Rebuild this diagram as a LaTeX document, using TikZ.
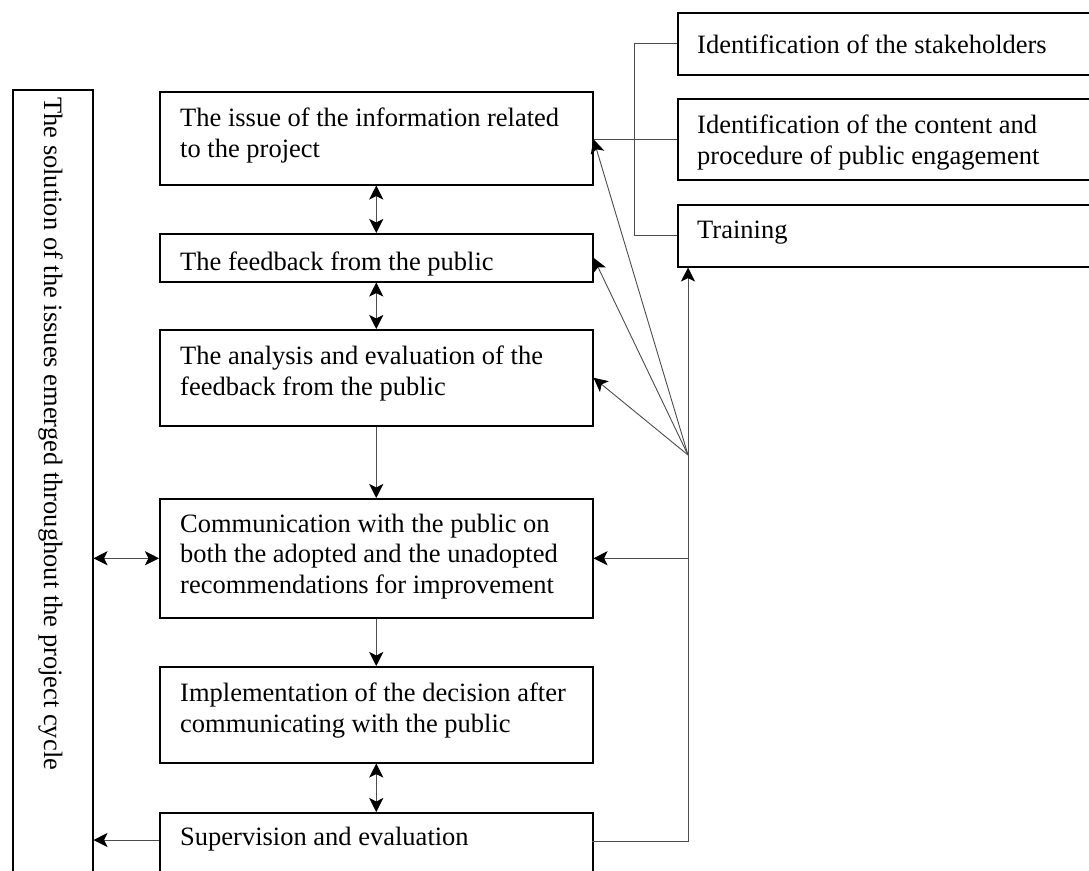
\documentclass[tikz,border=0pt]{standalone}
\usepackage{fontspec}
\setmainfont{Liberation Serif}
\usetikzlibrary{arrows.meta}
\begin{document}
\begin{tikzpicture}[x=1pt,y=-1pt,
  box/.style={draw=black, line width=1.5pt, rectangle, inner sep=0pt, anchor=north west},
  txt/.style={font=\fontsize{26.5}{30.5}\selectfont, align=left, inner sep=0pt, anchor=base west},
  conn/.style={draw=black!70, line width=0.9pt},
  tip/.tip={Stealth[length=14pt,width=14pt,inset=3.5pt,black]},
  arr/.style={conn, -tip},
  darr/.style={conn, tip-tip},
]
\useasboundingbox (0,0) rectangle (1089,870);
\clip (0,0) rectangle (1089,870);
% boxes
\node[box, minimum width=80pt, minimum height=820pt] (L) at (12,89) {};
\node[box, minimum width=433pt, minimum height=93pt] (b1) at (159,91) {};
\node[box, minimum width=433pt, minimum height=48pt] (b2) at (159,233) {};
\node[box, minimum width=433pt, minimum height=96pt] (b3) at (159,329) {};
\node[box, minimum width=433pt, minimum height=119pt] (b4) at (159,498) {};
\node[box, minimum width=433pt, minimum height=96pt] (b5) at (159,666) {};
\node[box, minimum width=433pt, minimum height=60pt] (b6) at (159,812) {};
\node[box, minimum width=440pt, minimum height=62pt] (r1) at (677,12) {};
\node[box, minimum width=440pt, minimum height=81pt] (r2) at (677,98) {};
\node[box, minimum width=440pt, minimum height=62pt] (r3) at (677,204) {};
% texts (base anchor = baseline of the last line)
\node[txt] (t1) at (180,157) {The issue of the information related\\to the project};
\node[txt] (t2) at (180,270) {The feedback from the public};
\node[txt] (t3) at (180,395) {The analysis and evaluation of the\\feedback from the public};
\node[txt] (t4) at (180,593) {Communication with the public on\\both the adopted and the unadopted\\recommendations for improvement};
\node[txt] (t5) at (180,732) {Implementation of the decision after\\communicating with the public};
\node[txt] (t6) at (180,845) {Supervision and evaluation};
\node[txt] (tr1) at (697,53) {Identification of the stakeholders};
\node[txt] (tr2) at (697,164) {Identification of the content and\\procedure of public engagement};
\node[txt] (tr3) at (697,238) {Training};
\node[txt, rotate=-90] (tL) at (44,97) {The solution of the issues emerged throughout the project cycle};
% vertical connectors
\draw[darr] (b1.south) -- (b2.north);
\draw[darr] (b2.south) -- (b3.north);
\draw[arr] (b3.south) -- (b4.north);
\draw[arr] (b4.south) -- (b5.north);
\draw[darr] (b5.south) -- (b6.north);
% left connectors
\draw[darr] (L.east |- b4.west) -- (b4.west);
\coordinate (s6) at (159,840);
\draw[arr] (s6) -- (L.east |- s6);
% bracket
\draw[conn] (r1.west) -- ++(-43,0) |- (r3.west);
\draw[conn] (b1.east |- r2.west) -- (r2.west);
% hub
\coordinate (H) at (688,455);
\coordinate (e6) at (592,841);
\draw[arr] (e6) -| (H |- r3.south);
\draw[arr] (H |- b4.east) -- (b4.east);
\draw[arr] (H) -- (b1.east |- r2.west);
\draw[arr] (H) -- (b2.east);
\draw[arr] (H) -- (b3.east);
\end{tikzpicture}
\end{document}
